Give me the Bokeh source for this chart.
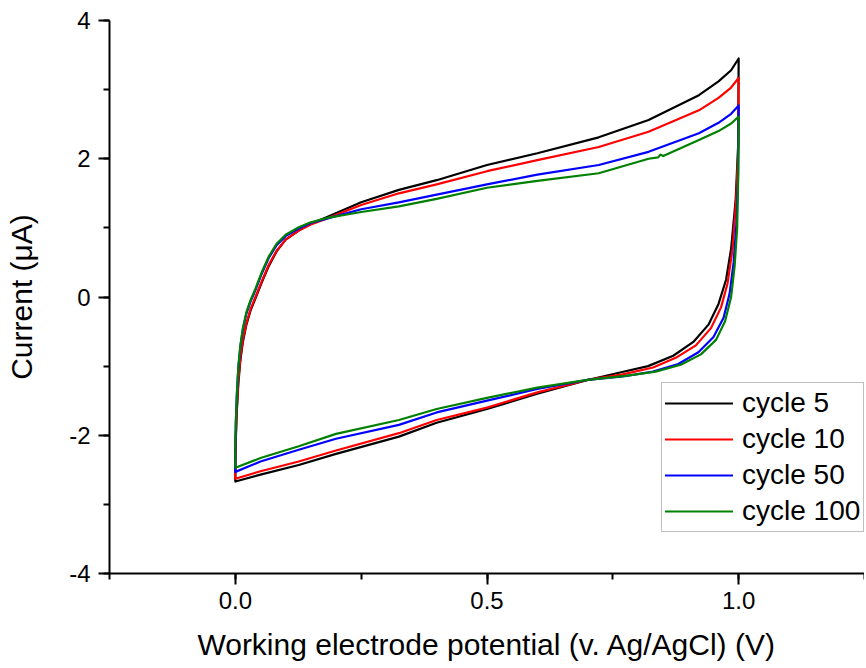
from bokeh.plotting import figure
from bokeh.models import Range1d, SingleIntervalTicker, PrintfTickFormatter, Legend, LegendItem
from bokeh.embed import file_html
from bokeh.resources import INLINE

# ---------------- data ----------------
labels = ["cycle 5", "cycle 10", "cycle 50", "cycle 100"]
colors = ["#000000", "#FF0000", "#0000FF", "#008000"]

# forward (anodic) scans, 0 V -> 1 V
up_x_a = [0.0, 0.0, 0.001, 0.003, 0.006, 0.010, 0.015, 0.022, 0.030, 0.040, 0.052, 0.066,
          0.082, 0.100, 0.126, 0.150, 0.180, 0.250, 0.325, 0.400, 0.500, 0.600, 0.722,
          0.821, 0.921, 0.960, 0.985, 1.000]
c5_up_y = [-2.67, -2.40, -2.05, -1.65, -1.25, -0.92, -0.65, -0.40, -0.20, -0.02, 0.20, 0.44,
           0.66, 0.83, 0.96, 1.06, 1.15, 1.37, 1.55, 1.69, 1.91, 2.08, 2.31,
           2.56, 2.92, 3.12, 3.28, 3.45]
c10_up_y = [-2.63, -2.35, -2.00, -1.60, -1.20, -0.88, -0.62, -0.38, -0.18, 0.00, 0.22, 0.46,
            0.67, 0.83, 0.96, 1.05, 1.13, 1.33, 1.50, 1.63, 1.82, 1.98, 2.17,
            2.39, 2.70, 2.88, 3.03, 3.17]
c50_up_y = [-2.53, -2.22, -1.82, -1.42, -1.02, -0.72, -0.47, -0.24, -0.07, 0.10, 0.33, 0.56,
            0.75, 0.88, 0.99, 1.07, 1.13, 1.27, 1.37, 1.48, 1.63, 1.77, 1.91,
            2.10, 2.37, 2.52, 2.65, 2.77]

up_x_b = [0.0, 0.0, 0.001, 0.003, 0.006, 0.010, 0.015, 0.022, 0.030, 0.040, 0.052, 0.066,
          0.082, 0.100, 0.126, 0.150, 0.180, 0.250, 0.325, 0.400, 0.500, 0.600, 0.722,
          0.821, 0.840, 0.845, 0.850, 0.921, 0.960, 0.985, 1.000]
c100_up_y = [-2.47, -2.20, -1.80, -1.40, -1.00, -0.70, -0.45, -0.22, -0.05, 0.12, 0.35, 0.58,
             0.77, 0.90, 1.01, 1.08, 1.14, 1.23, 1.31, 1.42, 1.58, 1.68, 1.79,
             2.00, 2.02, 2.06, 2.04, 2.27, 2.40, 2.51, 2.61]

# reverse (cathodic) scans, 1 V -> 0 V
c5_dn_x = [1.0, 0.999, 0.994, 0.985, 0.975, 0.960, 0.940, 0.910, 0.870, 0.820, 0.760, 0.700,
           0.600, 0.500, 0.400, 0.325, 0.200, 0.126, 0.050, 0.0]
c5_dn_y = [3.45, 2.20, 1.40, 0.70, 0.25, -0.10, -0.40, -0.65, -0.85, -1.00, -1.10, -1.20,
           -1.40, -1.62, -1.82, -2.02, -2.27, -2.43, -2.57, -2.67]
c10_dn_x = [1.0, 0.999, 0.995, 0.988, 0.978, 0.965, 0.945, 0.915, 0.875, 0.830, 0.770, 0.700,
            0.600, 0.500, 0.400, 0.325, 0.200, 0.126, 0.050, 0.0]
c10_dn_y = [3.17, 2.10, 1.40, 0.70, 0.20, -0.15, -0.45, -0.70, -0.88, -1.02, -1.12, -1.20,
            -1.38, -1.60, -1.78, -1.97, -2.22, -2.38, -2.52, -2.63]
c50_dn_x = [1.0, 0.999, 0.996, 0.990, 0.982, 0.970, 0.950, 0.920, 0.880, 0.830, 0.770, 0.700,
            0.600, 0.500, 0.400, 0.325, 0.200, 0.126, 0.050, 0.0]
c50_dn_y = [2.77, 1.80, 1.10, 0.50, 0.05, -0.30, -0.58, -0.80, -0.97, -1.08, -1.15, -1.20,
            -1.33, -1.50, -1.67, -1.85, -2.05, -2.21, -2.38, -2.53]
c100_dn_x = [1.0, 0.999, 0.997, 0.992, 0.985, 0.973, 0.955, 0.925, 0.885, 0.835, 0.775, 0.700,
             0.600, 0.500, 0.400, 0.325, 0.200, 0.126, 0.050, 0.0]
c100_dn_y = [2.61, 1.70, 1.00, 0.45, 0.00, -0.35, -0.62, -0.83, -0.98, -1.08, -1.14, -1.20,
             -1.31, -1.46, -1.62, -1.78, -1.98, -2.16, -2.33, -2.47]

x_ticks_interval = 0.5
y_ticks_interval = 2

# ---------------- figure ----------------
FONT = "Liberation Sans"
p = figure(width=864, height=666, output_backend="svg", toolbar_location=None,
           x_range=Range1d(-0.25, 1.25), y_range=Range1d(-4, 4),
           min_border_left=109, min_border_right=0, min_border_top=20, min_border_bottom=93)
p.outline_line_color = None
p.xgrid.visible = False
p.ygrid.visible = False
p.background_fill_color = "white"
p.border_fill_color = "white"

series = [
    (up_x_a + c5_dn_x, c5_up_y + c5_dn_y),
    (up_x_a + c10_dn_x, c10_up_y + c10_dn_y),
    (up_x_a + c50_dn_x, c50_up_y + c50_dn_y),
    (up_x_b + c100_dn_x, c100_up_y + c100_dn_y),
]
renderers = []
for (xs, ys), col in zip(series, colors):
    r = p.line(xs, ys, line_color=col, line_width=2.2, line_join="round", line_cap="round")
    renderers.append(r)

# axes
for ax in (p.xaxis[0], p.yaxis[0]):
    ax.axis_line_width = 2
    ax.major_tick_line_width = 2
    ax.minor_tick_line_width = 2
    ax.major_tick_in = 0
    ax.major_tick_out = 11
    ax.minor_tick_in = 0
    ax.minor_tick_out = 6
    ax.major_label_text_font = FONT
    ax.major_label_text_font_size = "24px"
    ax.major_label_text_color = "black"
    ax.axis_label_text_font = FONT
    ax.axis_label_text_font_size = "30px"
    ax.axis_label_text_font_style = "normal"
    ax.axis_label_text_color = "black"

p.xaxis.ticker = SingleIntervalTicker(interval=x_ticks_interval, num_minor_ticks=2)
p.yaxis.ticker = SingleIntervalTicker(interval=y_ticks_interval, num_minor_ticks=2)
p.xaxis.formatter = PrintfTickFormatter(format="%.1f")
p.yaxis.formatter = PrintfTickFormatter(format="%d")
p.xaxis.major_label_standoff = 7
p.yaxis.major_label_standoff = 8
p.xaxis.axis_label = "Working electrode potential (v. Ag/AgCl) (V)"
p.yaxis.axis_label = "Current (\u03bcA)"
p.xaxis.axis_label_standoff = 16
p.yaxis.axis_label_standoff = 28

legend = Legend(items=[LegendItem(label=lab, renderers=[r]) for lab, r in zip(labels, renderers)],
                location=(552, 41))
legend.label_text_font = FONT
legend.label_text_font_size = "28px"
legend.label_text_color = "black"
legend.glyph_width = 68
legend.glyph_height = 34
legend.label_height = 34
legend.label_standoff = 9
legend.padding = 3
legend.spacing = 2
legend.margin = 0
legend.border_line_color = "#808080"
legend.border_line_width = 1.5
legend.background_fill_alpha = 1
p.add_layout(legend)

open("out.html", "w").write(file_html(p, INLINE))
